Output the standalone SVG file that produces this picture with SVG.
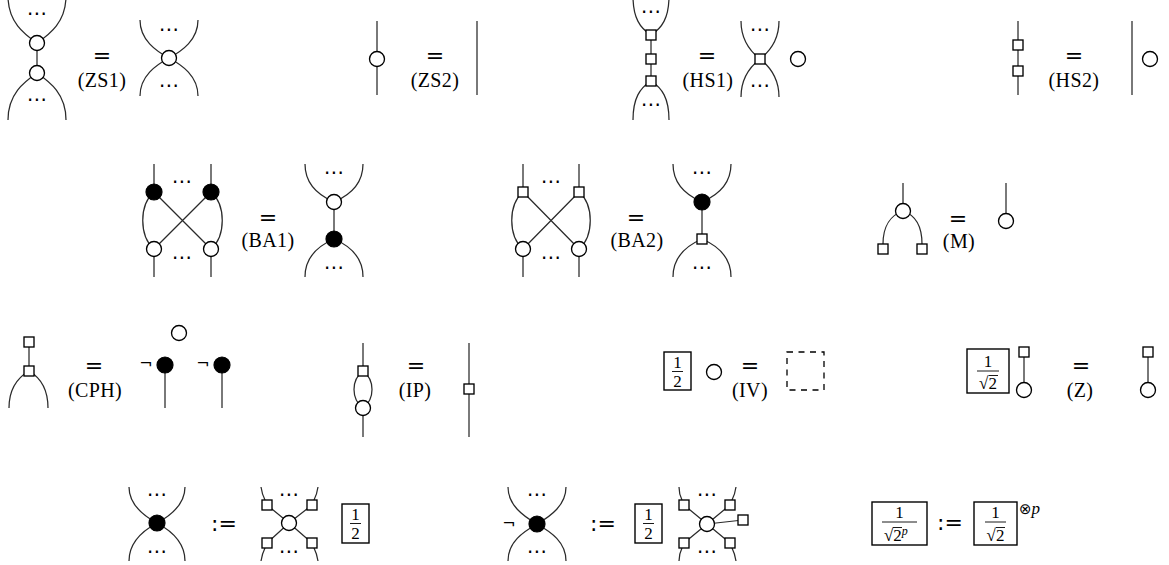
<svg xmlns="http://www.w3.org/2000/svg" xmlns:xlink="http://www.w3.org/1999/xlink" width="1169" height="565" viewBox="0 0 1169 565">
<style>
.w{fill:none;stroke:#2a2a2a;stroke-width:1.25}
.wn{fill:#fff;stroke:#000;stroke-width:1.35}
.bn{fill:#000;stroke:#000;stroke-width:1.2}
.box{fill:#fff;stroke:#000;stroke-width:1.4}
.dash{fill:none;stroke:#000;stroke-width:1.3;stroke-dasharray:6 5.5}
.lbl{font-family:"Liberation Serif","DejaVu Serif",serif;font-size:20px;text-anchor:middle;fill:#000;letter-spacing:0.4px}
.eq{font-family:"DejaVu Sans",sans-serif;font-size:22px;text-anchor:middle;fill:#000}
.dots{font-family:"DejaVu Sans",sans-serif;font-size:20px;text-anchor:middle;fill:#000}
.fr{font-family:"Liberation Serif","DejaVu Serif",serif;font-size:17px;text-anchor:middle;fill:#000}
.neg{font-family:"DejaVu Sans",sans-serif;font-size:16px;text-anchor:middle;fill:#000}
.bar{stroke:#000;stroke-width:0.9}
</style>
<defs>
<circle id="wc" r="7.5" class="wn"/>
<circle id="bc" r="8" class="bn"/>
<rect id="sq" x="-5" y="-5" width="10" height="10" class="wn"/>
</defs>

<!-- connectors -->
<g id="connectors">
<!-- ZS1 -->
<path class="w" d="M8 -4 C8 22 24 34 37 43 M66 -4 C66 22 50 34 37 43 M37 43 V73 M37 73 C24 82 8 94 8 120 M37 73 C50 82 66 94 66 120"/>
<path class="w" d="M140 20 C140 40 156 51 169 58 M198 20 C198 40 182 51 169 58 M169 58 C156 65 140 76 140 96 M169 58 C182 65 198 76 198 96"/>
<!-- ZS2 -->
<path class="w" d="M377 21 V95 M477 21 V95"/>
<!-- HS1 -->
<path class="w" d="M633 -4 C633 18 640 28 651 35 M669 -4 C669 18 662 28 651 35 M651 35 V81 M651 81 C640 88 633 98 633 120 M651 81 C662 88 669 98 669 120"/>
<path class="w" d="M741 21 C741 40 751 52 760 59 M779 21 C779 40 769 52 760 59 M760 59 C751 66 741 78 741 97 M760 59 C769 66 779 78 779 97"/>
<!-- HS2 -->
<path class="w" d="M1018 21 V95 M1132 21 V95"/>
<!-- BA1 -->
<path class="w" d="M154 164 V192 M211 164 V192 M154 249 V277 M211 249 V277 M154 192 L211 249 M211 192 L154 249 M154 192 C139 205 139 236 154 249 M211 192 C226 205 226 236 211 249"/>
<path class="w" d="M305 164 C305 185 320 196 334 202 M363 164 C363 185 348 196 334 202 M334 202 V239 M334 239 C320 245 305 256 305 277 M334 239 C348 245 363 256 363 277"/>
<!-- BA2 -->
<path class="w" d="M523 164 V192 M579 164 V192 M523 249 V277 M579 249 V277 M523 192 L579 249 M579 192 L523 249 M523 192 C508 205 508 236 523 249 M579 192 C594 205 594 236 579 249"/>
<path class="w" d="M673 164 C673 185 688 196 702 202 M731 164 C731 185 716 196 702 202 M702 202 V239 M702 239 C688 245 673 256 673 277 M702 239 C716 245 731 256 731 277"/>
<!-- M -->
<path class="w" d="M903 183 V211 M903 211 C891 215 883 226 883 244 M903 211 C915 215 922 226 922 244"/>
<path class="w" d="M1006 183 V221"/>
<!-- CPH -->
<path class="w" d="M29 342 V371 M29 371 C17 378 9 390 9 408 M29 371 C41 378 48 390 48 408"/>
<path class="w" d="M165 365 V408 M222 365 V408"/>
<!-- IP -->
<path class="w" d="M363 343 V371 M363 371 C351 380 351 399 363 408 M363 371 C375 380 375 399 363 408 M363 408 V437"/>
<path class="w" d="M469 343 V437"/>
<!-- Z -->
<path class="w" d="M1024 352 V390 M1148 352 V390"/>
<!-- definitions -->
<path class="w" d="M129 487 C129 505 144 516 157 523 M185 487 C185 505 170 516 157 523 M157 523 C144 530 129 541 129 561 M157 523 C170 530 185 541 185 561"/>
<path class="w" d="M289 523 L267 505 M289 523 L312 505 M289 523 L267 543 M289 523 L312 543 M265 500 Q262 494 261 487 M314 500 Q317 494 318 487 M265 548 Q262 554 261 561 M314 548 Q317 554 318 561"/>
<path class="w" d="M508 487 C508 505 523 516 537 524 M566 487 C566 505 551 516 537 524 M537 524 C523 532 508 542 508 561 M537 524 C551 532 566 542 566 561"/>
<path class="w" d="M707 524 L684 505 M707 524 L730 505 M707 524 L684 543 M707 524 L730 543 M707 524 L743 520 M682 500 Q679 494 679 487 M732 500 Q735 494 736 487 M682 548 Q679 554 679 561 M732 548 Q735 554 736 561"/>
</g>

<!-- Row 1 -->
<g id="zs1-lhs">
<use href="#wc" x="37" y="43"/><use href="#wc" x="37" y="73"/>
<text class="dots" x="37" y="20">⋯</text><text class="dots" x="37" y="106">⋯</text>
</g>
<g id="zs1-eq"><text class="eq" x="102" y="63">=</text><text class="lbl" x="102" y="87">(ZS1)</text></g>
<g id="zs1-rhs">
<use href="#wc" x="169" y="58"/>
<text class="dots" x="169" y="36">⋯</text><text class="dots" x="169" y="92">⋯</text>
</g>

<g id="zs2-lhs"><use href="#wc" x="377" y="59"/></g>
<g id="zs2-eq"><text class="eq" x="435" y="63">=</text><text class="lbl" x="435" y="87">(ZS2)</text></g>
<g id="zs2-rhs"></g>

<g id="hs1-lhs">
<use href="#sq" x="651" y="35"/><use href="#sq" x="651" y="59"/><use href="#sq" x="651" y="81"/>
<text class="dots" x="651" y="18">⋯</text><text class="dots" x="651" y="111">⋯</text>
</g>
<g id="hs1-eq"><text class="eq" x="707" y="63">=</text><text class="lbl" x="708" y="87">(HS1)</text></g>
<g id="hs1-rhs">
<use href="#sq" x="760" y="59"/>
<text class="dots" x="760" y="36">⋯</text><text class="dots" x="760" y="92">⋯</text>
<use href="#wc" x="798" y="59"/>
</g>

<g id="hs2-lhs"><use href="#sq" x="1018" y="45"/><use href="#sq" x="1018" y="71"/></g>
<g id="hs2-eq"><text class="eq" x="1074" y="63">=</text><text class="lbl" x="1074" y="87">(HS2)</text></g>
<g id="hs2-rhs"><use href="#wc" x="1150" y="59"/></g>

<!-- Row 2 -->
<g id="ba1-lhs">
<use href="#bc" x="154" y="192"/><use href="#bc" x="211" y="192"/>
<use href="#wc" x="154" y="249"/><use href="#wc" x="211" y="249"/>
<text class="dots" x="182" y="188">⋯</text><text class="dots" x="182" y="264">⋯</text>
</g>
<g id="ba1-eq"><text class="eq" x="268" y="225">=</text><text class="lbl" x="268" y="247">(BA1)</text></g>
<g id="ba1-rhs">
<use href="#wc" x="334" y="202"/><use href="#bc" x="334" y="239"/>
<text class="dots" x="334" y="179">⋯</text><text class="dots" x="334" y="274">⋯</text>
</g>

<g id="ba2-lhs">
<use href="#sq" x="523" y="192"/><use href="#sq" x="579" y="192"/>
<use href="#wc" x="523" y="249"/><use href="#wc" x="579" y="249"/>
<text class="dots" x="551" y="188">⋯</text><text class="dots" x="551" y="264">⋯</text>
</g>
<g id="ba2-eq"><text class="eq" x="636" y="225">=</text><text class="lbl" x="637" y="247">(BA2)</text></g>
<g id="ba2-rhs">
<use href="#bc" x="702" y="202"/><use href="#sq" x="702" y="239"/>
<text class="dots" x="702" y="179">⋯</text><text class="dots" x="702" y="274">⋯</text>
</g>

<g id="m-lhs">
<use href="#wc" x="903" y="211"/><use href="#sq" x="883" y="249"/><use href="#sq" x="922" y="249"/>
</g>
<g id="m-eq"><text class="eq" x="958" y="226">=</text><text class="lbl" x="959" y="248">(M)</text></g>
<g id="m-rhs"><use href="#wc" x="1006" y="221"/></g>

<!-- Row 3 -->
<g id="cph-lhs"><use href="#sq" x="29" y="342"/><use href="#sq" x="29" y="371"/></g>
<g id="cph-eq"><text class="eq" x="94" y="373">=</text><text class="lbl" x="95" y="397">(CPH)</text></g>
<g id="cph-rhs">
<use href="#wc" x="179" y="333"/>
<text class="neg" x="146" y="369">¬</text><use href="#bc" x="165" y="365"/>
<text class="neg" x="203" y="369">¬</text><use href="#bc" x="222" y="365"/>
</g>

<g id="ip-lhs"><use href="#sq" x="363" y="371"/><use href="#wc" x="363" y="408"/></g>
<g id="ip-eq"><text class="eq" x="416" y="373">=</text><text class="lbl" x="415" y="397">(IP)</text></g>
<g id="ip-rhs"><use href="#sq" x="469" y="389"/></g>

<g id="iv-lhs">
<rect class="box" x="664" y="352" width="27" height="38"/>
<text class="fr" x="677.5" y="368">1</text><line class="bar" x1="672" y1="371.5" x2="683" y2="371.5"/><text class="fr" x="677.5" y="387">2</text>
<use href="#wc" x="714" y="372"/>
</g>
<g id="iv-eq"><text class="eq" x="750" y="373">=</text><text class="lbl" x="750" y="397">(IV)</text></g>
<g id="iv-rhs"><rect class="dash" x="787" y="352" width="37" height="38"/></g>

<g id="z-lhs">
<rect class="box" x="967" y="349" width="42" height="44"/>
<text class="fr" x="988" y="367">1</text><line class="bar" x1="977" y1="371" x2="999" y2="371"/>
<text class="fr" x="988" y="389">√2</text><line class="bar" x1="988.5" y1="375.5" x2="998" y2="375.5"/>
<use href="#wc" x="1024" y="390"/><use href="#sq" x="1024" y="352"/>
</g>
<g id="z-eq"><text class="eq" x="1081" y="373">=</text><text class="lbl" x="1080" y="397">(Z)</text></g>
<g id="z-rhs"><use href="#wc" x="1148" y="390"/><use href="#sq" x="1148" y="352"/></g>

<!-- Row 4 -->
<g id="def1-lhs">
<use href="#bc" x="157" y="523"/>
<text class="dots" x="157" y="501">⋯</text><text class="dots" x="157" y="558">⋯</text>
</g>
<g id="def1-eq"><text class="eq" x="224" y="531">:=</text></g>
<g id="def1-rhs">
<use href="#wc" x="289" y="523"/>
<use href="#sq" x="267" y="505"/><use href="#sq" x="312" y="505"/><use href="#sq" x="267" y="543"/><use href="#sq" x="312" y="543"/>
<text class="dots" x="289" y="501">⋯</text><text class="dots" x="289" y="558">⋯</text>
<rect class="box" x="342" y="504" width="27" height="39"/>
<text class="fr" x="355.5" y="520">1</text><line class="bar" x1="350" y1="523.5" x2="361" y2="523.5"/><text class="fr" x="355.5" y="539">2</text>
</g>

<g id="def2-lhs">
<text class="neg" x="509" y="529">¬</text>
<use href="#bc" x="537" y="524"/>
<text class="dots" x="537" y="501">⋯</text><text class="dots" x="537" y="558">⋯</text>
</g>
<g id="def2-eq"><text class="eq" x="603" y="531">:=</text></g>
<g id="def2-rhs">
<rect class="box" x="635" y="504" width="27" height="39"/>
<text class="fr" x="648.5" y="520">1</text><line class="bar" x1="643" y1="523.5" x2="654" y2="523.5"/><text class="fr" x="648.5" y="539">2</text>
<use href="#wc" x="707" y="524"/>
<use href="#sq" x="684" y="505"/><use href="#sq" x="730" y="505"/><use href="#sq" x="684" y="543"/><use href="#sq" x="730" y="543"/><use href="#sq" x="743" y="520"/>
<text class="dots" x="707" y="501">⋯</text><text class="dots" x="707" y="558">⋯</text>
</g>

<g id="def3-lhs">
<rect class="box" x="872" y="502" width="55" height="43"/>
<text class="fr" x="899.5" y="518">1</text><line class="bar" x1="882" y1="522" x2="917" y2="522"/>
<text class="fr" x="884" y="541" style="text-anchor:start">√2<tspan font-size="12" font-style="italic" dy="-6">p</tspan></text>
<line class="bar" x1="893" y1="527.5" x2="902" y2="527.5"/>
</g>
<g id="def3-eq"><text class="eq" x="950" y="530">:=</text></g>
<g id="def3-rhs">
<rect class="box" x="974" y="502" width="43" height="43"/>
<text class="fr" x="995.5" y="518">1</text><line class="bar" x1="985" y1="522" x2="1006" y2="522"/>
<text class="fr" x="995.5" y="541">√2</text><line class="bar" x1="996" y1="527.5" x2="1005" y2="527.5"/>
<text x="1019" y="514" style="font-family:'DejaVu Sans',sans-serif;font-size:15px;fill:#000">⊗<tspan style="font-family:'Liberation Serif',serif;font-style:italic;font-size:17px">p</tspan></text>
</g>
</svg>
